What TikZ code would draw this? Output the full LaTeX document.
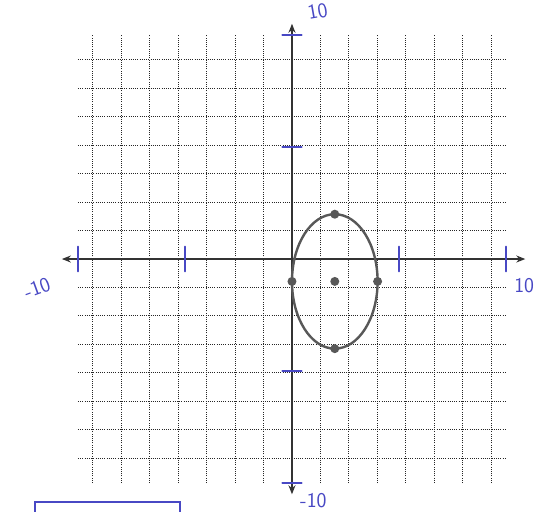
\documentclass[tikz,border=0pt]{standalone}
\usepackage{tikz}
\usetikzlibrary{arrows.meta}
\definecolor{pen}{RGB}{72,72,196}
\definecolor{curve}{RGB}{88,88,88}
\begin{document}
\begin{tikzpicture}[x=21.4pt, y=22.4pt,
  gridline/.style={dash pattern=on 1pt off 1.2pt, line width=1.1pt, black!85},
  axisline/.style={line width=1.6pt, black!80, {Stealth[length=9pt,width=7pt]}-{Stealth[length=9pt,width=7pt]}},
  pentick/.style={pen, line width=2.2pt, line cap=round},
  penlabel/.style={pen, font=\fontsize{21}{21}\selectfont\sffamily, inner sep=0pt},
  vertex/.style={circle, fill=curve, inner sep=0pt, minimum size=9pt}]

    \useasboundingbox (-13.64,-11.29) rectangle (11.68,11.56);

    \draw[gridline] (-10,-10) grid (10,10);

    \coordinate (L) at (-10.75,0);
    \coordinate (R) at (10.9,0);
    \coordinate (T) at (0,10.5);
    \coordinate (B) at (0,-10.5);
    \draw[axisline] (L) -- (R);
    \draw[axisline] (B) -- (T);

    % hand marks on the axes
    \foreach \t in {-10,-5,5,10}
        \draw[pentick] (\t,-0.55) -- (\t,0.55);
    \foreach \t in {-10,-5,5,10}
        \draw[pentick] (-0.45,\t) -- (0.45,\t);

    \node at (1.2,11.05) (top) [penlabel, rotate=10] {10};
    \node at (-11.9,-1.3) (left) [penlabel, rotate=20] {-10};
    \node at (10.85,-1.2) (right) [penlabel] {10};
    \node at (1.0,-10.78) (bottom) [penlabel] {-10};

    \node at (2,-1) (C) [vertex] {};
    \node at (2,2) (V1) [vertex] {};
    \node at (2,-4) (V2) [vertex] {};
    \node at (0,-1) (V3) [vertex] {};
    \node at (4,-1) (V4) [vertex] {};
    \draw[curve, line width=2.4pt] (C) ellipse [x radius=2, y radius=3];

    \draw[pen, line width=1.6pt] (-12,-11.29) -- (-12,-10.85) -- (-5.23,-10.85) -- (-5.23,-11.29);

\end{tikzpicture}
\end{document}
